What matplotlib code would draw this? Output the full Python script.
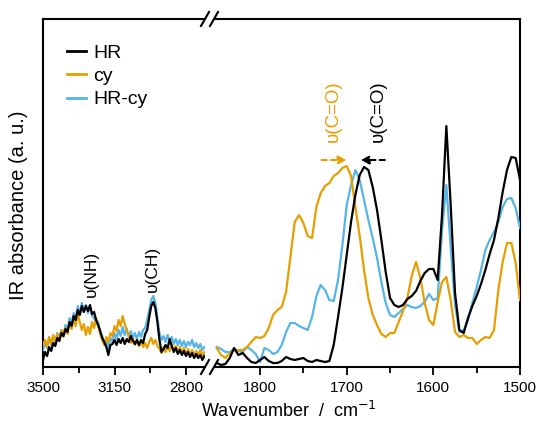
import matplotlib
matplotlib.use("Agg")
import matplotlib.pyplot as plt
from matplotlib.lines import Line2D
from matplotlib.ticker import FixedLocator
import numpy as np

plt.rcParams['font.family'] = ['Liberation Sans', 'DejaVu Sans']

# ---- spectra (absorbance, milli a.u.) ----
# N-H / C-H stretching window, 3500 -> 2710 cm-1, 10 cm-1 steps
wn_high = np.arange(3500, 2705, -10)
hr_high = [7, 15, 11, 20, 16, 24, 21, 29, 26, 34,
           31, 38, 35, 45, 41, 51, 47, 57, 52, 61,
           55, 61, 56, 62, 53, 55, 47, 42, 36, 29,
           25, 20, 12, 22, 23, 27, 22, 28, 24, 29,
           23, 28, 25, 31, 26, 23, 27, 22, 27, 24,
           33, 37, 50, 61, 65, 59, 45, 27, 15, 18,
           22, 19, 28, 21, 15, 19, 13, 17, 12, 16,
           11, 15, 10, 14, 9, 13, 9, 12, 7, 11]
cy_high = [22, 27, 20, 30, 23, 32, 25, 33, 27, 37,
           30, 39, 33, 45, 38, 49, 41, 53, 45, 37,
           43, 32, 40, 33, 45, 39, 49, 41, 33, 27,
           22, 30, 25, 34, 31, 41, 36, 47, 41, 51,
           43, 37, 31, 24, 29, 22, 27, 21, 26, 20,
           24, 19, 25, 29, 23, 27, 21, 18, 14, 20,
           15, 21, 16, 22, 17, 21, 15, 20, 14, 19,
           13, 18, 12, 17, 11, 16, 12, 17, 11, 15]
hrcy_high = [17, 24, 19, 29, 22, 31, 25, 34, 28, 37,
             31, 42, 36, 49, 43, 54, 48, 61, 53, 64,
             57, 62, 54, 60, 51, 49, 43, 45, 34, 31,
             22, 26, 19, 29, 25, 34, 28, 37, 31, 40,
             32, 38, 30, 36, 29, 34, 28, 35, 30, 37,
             39, 47, 57, 67, 71, 64, 49, 34, 27, 31,
             25, 32, 26, 30, 23, 28, 22, 27, 21, 26,
             20, 25, 22, 27, 20, 24, 19, 23, 17, 20]

# C=O / fingerprint window, 1850 -> 1500 cm-1, 5 cm-1 steps
wn_low = np.arange(1850, 1495, -5)
hr_low = [4, 2, 3, 9, 19, 12, 14, 9, 5, 4,
          7, 10, 6, 4, 4, 6, 10, 8, 7, 8,
          9, 6, 5, 7, 6, 5, 6, 22, 50, 79,
          112, 145, 172, 192, 200, 197, 180, 157, 127, 95,
          69, 62, 60, 62, 68, 71, 76, 86, 94, 98,
          98, 87, 152, 241, 162, 74, 37, 34, 49, 61,
          71, 83, 97, 113, 127, 149, 175, 197, 210, 209,
          187]
cy_low = [19, 12, 9, 14, 17, 17, 17, 20, 25, 30,
          29, 31, 39, 52, 57, 60, 75, 110, 145, 152,
          144, 131, 129, 160, 174, 181, 184, 191, 194, 199,
          201, 191, 160, 131, 97, 69, 52, 42, 33, 30,
          34, 34, 45, 56, 69, 91, 105, 89, 64, 47,
          42, 65, 85, 90, 67, 35, 30, 32, 29, 29,
          23, 27, 30, 29, 37, 77, 105, 124, 124, 104,
          67]
hrcy_low = [20, 18, 15, 15, 18, 16, 15, 20, 17, 13,
            5, 19, 17, 13, 15, 22, 35, 44, 44, 41,
            39, 37, 50, 71, 82, 77, 67, 66, 87, 122,
            162, 182, 197, 187, 167, 147, 129, 109, 85, 64,
            52, 50, 54, 58, 62, 60, 59, 61, 65, 73,
            67, 69, 137, 182, 120, 62, 35, 37, 47, 64,
            80, 97, 117, 127, 135, 145, 160, 168, 169, 159,
            139]

series_labels = ["HR", "cy", "HR-cy"]
series_colors = ["#000000", "#E69F00", "#56B4E9"]

# ---- figure with a broken wavenumber axis ----
W, H = 539, 425
fig = plt.figure(figsize=(W / 100, H / 100), dpi=100)
bottom, height = 58 / H, 348 / H
ax_l = fig.add_axes([43 / W, bottom, 161.8 / W, height])
ax_r = fig.add_axes([215 / W, bottom, 305 / W, height])

lw = 1.6
draw_order = [(hrcy_high, hrcy_low, 2), (cy_high, cy_low, 1), (hr_high, hr_low, 0)]
for hi, lo, k in draw_order:
    ax_l.plot(wn_high, hi, color=series_colors[k], lw=lw, zorder=3 - k * 0.1)
    ax_r.plot(wn_low, lo, color=series_colors[k], lw=lw, zorder=3 - k * 0.1)

ax_l.set_xlim(3500, 2708)
ax_r.set_xlim(1852, 1500)
for ax in (ax_l, ax_r):
    ax.set_ylim(0, 348)
    ax.set_yticks([])
    ax.tick_params(axis='x', which='major', direction='out', length=6, width=1.3,
                   labelsize=11, pad=4, top=False)
    ax.tick_params(axis='x', which='minor', direction='out', length=4, width=1.3, top=False)
    for s in ax.spines.values():
        s.set_linewidth(1.5)

ax_l.xaxis.set_major_locator(FixedLocator([3500, 3150, 2800]))
ax_l.xaxis.set_minor_locator(FixedLocator([3325, 2975]))
ax_r.xaxis.set_major_locator(FixedLocator([1800, 1700, 1600, 1500]))
ax_r.xaxis.set_minor_locator(FixedLocator([1750, 1650, 1550]))
ax_l.spines['right'].set_visible(False)
ax_r.spines['left'].set_visible(False)

# break marks on the top and bottom spines
for y0 in (19, 367):
    for x0 in (201, 210):
        fig.add_artist(Line2D([x0 / W, (x0 + 8) / W],
                              [1 - (y0 + 7) / H, 1 - (y0 - 7) / H],
                              color='black', lw=1.5))

# axis labels
fig.text(289 / W, 1 - 411 / H, "Wavenumber  /  cm$^{-1}$", ha='center', va='center',
         fontsize=13)
fig.text(19 / W, 1 - 205 / H, "IR absorbance (a. u.)", ha='center', va='center',
         rotation=90, fontsize=14.5)

# legend
handles = [Line2D([], [], color=c, lw=2) for c in series_colors]
fig.legend(handles, series_labels, loc='upper left',
           bbox_to_anchor=(67 / W, 1 - 44 / H), frameon=False, fontsize=14,
           handlelength=1.0, handletextpad=0.35, labelspacing=0.3,
           borderaxespad=0, borderpad=0)

# band assignments
ax_l.text(3265, 70, "υ(NH)", rotation=90, ha='center', va='bottom', fontsize=12.5)
ax_l.text(2966, 75, "υ(CH)", rotation=90, ha='center', va='bottom', fontsize=12.5)
ax_r.text(1716, 225, "υ(C=O)", rotation=90, ha='center', va='bottom', fontsize=13.5,
          color=series_colors[1])
ax_r.text(1664, 225, "υ(C=O)", rotation=90, ha='center', va='bottom', fontsize=13.5,
          color=series_colors[0])
ax_r.annotate("", xy=(1700, 207), xytext=(1729, 207),
              arrowprops=dict(arrowstyle='-|>', ls=(0, (2.5, 2)), lw=1.5,
                              color=series_colors[1], mutation_scale=12,
                              shrinkA=0, shrinkB=0))
ax_r.annotate("", xy=(1684, 207), xytext=(1656, 207),
              arrowprops=dict(arrowstyle='-|>', ls=(0, (2.5, 2)), lw=1.5,
                              color=series_colors[0], mutation_scale=12,
                              shrinkA=0, shrinkB=0))

fig.savefig("out.png", dpi=100)
